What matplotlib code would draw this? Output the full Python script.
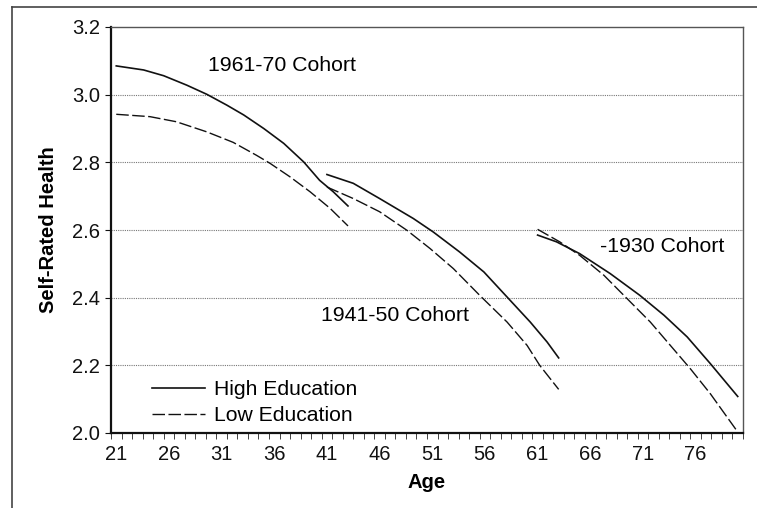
#!/usr/bin/env python3
# -*- coding: utf-8 -*-
import matplotlib
matplotlib.use("Agg")
import matplotlib.pyplot as plt
from matplotlib.lines import Line2D

plt.rcParams["font.family"] = ["Liberation Sans", "DejaVu Sans"]

# ---- data ----
age_1961_hi = [21, 23.6, 25.5, 27.7, 29.6, 31.5, 33.1, 35.0, 36.9, 38.8, 40.3, 41.6, 43]
high_1961 = [3.085, 3.073, 3.056, 3.028, 3.001, 2.969, 2.940, 2.900, 2.856, 2.801, 2.747, 2.713, 2.671]
age_1961_lo = [21, 24.2, 26.7, 29.6, 32.1, 34.3, 35.6, 37.5, 39.4, 41.3, 43]
low_1961 = [2.942, 2.935, 2.920, 2.890, 2.859, 2.821, 2.797, 2.757, 2.713, 2.664, 2.612]

age_1941_hi = [41, 43.5, 46.0, 49.2, 51.1, 53.6, 55.9, 58.1, 60.3, 61.9, 63]
high_1941 = [2.764, 2.738, 2.693, 2.634, 2.594, 2.535, 2.476, 2.402, 2.328, 2.269, 2.222]
age_1941_lo = [41, 43.5, 46.0, 48.6, 50.8, 53.0, 55.5, 58.1, 60.0, 61.2, 63]
low_1941 = [2.727, 2.693, 2.654, 2.599, 2.545, 2.486, 2.407, 2.328, 2.259, 2.200, 2.129]

age_1930_hi = [61, 62.8, 65.0, 67.9, 70.7, 73.0, 75.2, 77.4, 80]
high_1930 = [2.585, 2.565, 2.530, 2.471, 2.407, 2.348, 2.284, 2.205, 2.108]
age_1930_lo = [61, 63.1, 65.0, 67.3, 69.5, 71.7, 73.6, 75.5, 77.4, 80]
low_1930 = [2.602, 2.565, 2.525, 2.466, 2.397, 2.328, 2.259, 2.190, 2.116, 2.003]

x_ticks = [21, 26, 31, 36, 41, 46, 51, 56, 61, 66, 71, 76]
y_ticks = [2.0, 2.2, 2.4, 2.6, 2.8, 3.0, 3.2]

fig = plt.figure(figsize=(7.57, 5.08), dpi=100)
ax = fig.add_axes([111 / 757, 1 - 433 / 508, (743 - 111) / 757, (433 - 27) / 508])

# outer frame (only top and left edges are in view)
fig.add_artist(Line2D([12 / 757, 1], [1 - 7 / 508, 1 - 7 / 508], color="#444444", lw=1.2))
fig.add_artist(Line2D([12 / 757, 12 / 757], [0, 1 - 7 / 508], color="#444444", lw=1.2))

dash = (0, (9, 2.5))
ink = "#111111"
ax.plot(age_1961_hi, high_1961, color=ink, lw=1.2)
ax.plot(age_1961_lo, low_1961, color=ink, lw=1.0, linestyle=dash)
ax.plot(age_1941_hi, high_1941, color=ink, lw=1.2)
ax.plot(age_1941_lo, low_1941, color=ink, lw=1.0, linestyle=dash)
ax.plot(age_1930_hi, high_1930, color=ink, lw=1.2)
ax.plot(age_1930_lo, low_1930, color=ink, lw=1.0, linestyle=dash)

ax.set_xlim(20.5, 80.5)
ax.set_ylim(2.0, 3.2)
ax.set_yticks(y_ticks)
ax.set_yticklabels([f"{v:.1f}" for v in y_ticks])
ax.set_xticks(x_ticks)
ax.set_xticks([20.5 + k for k in range(61)], minor=True)
ax.tick_params(axis="x", which="major", length=0, labelsize=14.5, pad=9, colors=ink)
ax.tick_params(axis="x", which="minor", length=4, direction="out", color="#222222")
ax.tick_params(axis="y", length=4, labelsize=14.5, pad=4, colors=ink)

for v in y_ticks[1:-1]:
    ax.axhline(v, color="#777777", lw=0.8, linestyle=(0, (1, 1)), zorder=0)

for s in ("top", "right"):
    ax.spines[s].set_color("#555555")
    ax.spines[s].set_linewidth(1.0)
for s in ("left", "bottom"):
    ax.spines[s].set_color(ink)
    ax.spines[s].set_linewidth(1.6)

ax.set_xlabel("Age", fontsize=14.5, fontweight="bold", labelpad=6)
ax.set_ylabel("Self-Rated Health", fontsize=14.5, fontweight="bold", labelpad=10)

ax.text(36.7, 3.086, "1961-70 Cohort", fontsize=15.3, ha="center", va="center")
ax.text(47.5, 2.348, "1941-50 Cohort", fontsize=15.3, ha="center", va="center")
ax.text(72.8, 2.550, "-1930 Cohort", fontsize=15.3, ha="center", va="center")

ax.legend(handles=[Line2D([], [], color=ink, lw=1.2, label="High Education"),
                   Line2D([], [], color=ink, lw=1.0, linestyle=dash, label="Low Education")],
          loc="lower left", bbox_to_anchor=(0.045, -0.012), frameon=False, fontsize=15.2,
          handlelength=2.5, handletextpad=0.45, labelspacing=0.34, borderaxespad=0.2)

fig.savefig("out.png", dpi=100)
